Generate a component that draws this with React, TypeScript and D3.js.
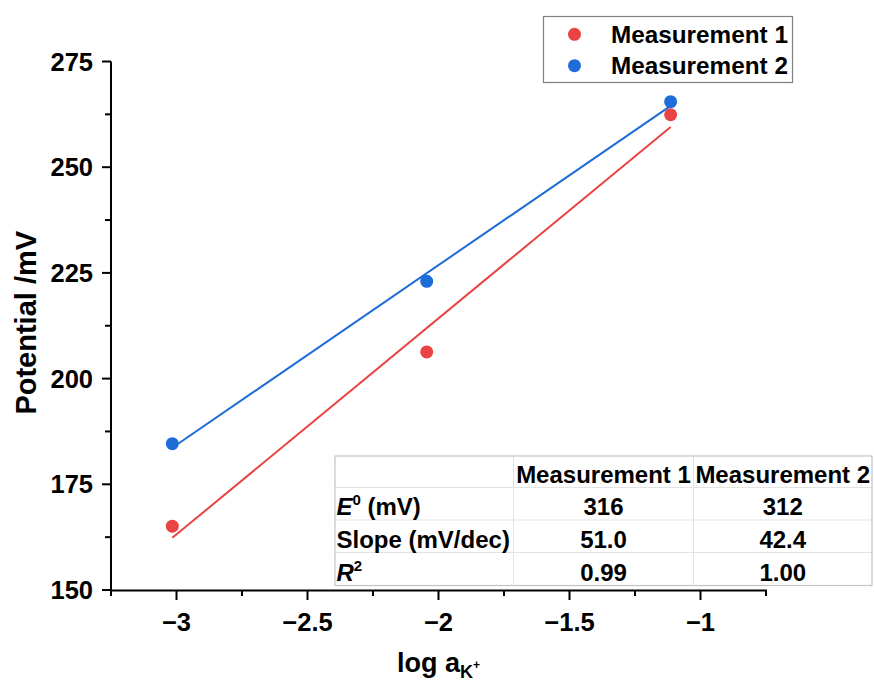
import React from "react";
import * as d3 from "d3";

const logA = [-3.016, -2.045, -1.114];
const measurement1 = [165.1, 206.3, 262.4];
const measurement2 = [184.6, 223.0, 265.5];
const seriesNames = ["Measurement 1", "Measurement 2"];
const seriesColors = ["#E94343", "#1D6CD7"];

const xMajorTicks = [-3, -2.5, -2, -1.5, -1];
const xMinorTicks = [-3.25, -2.75, -2.25, -1.75, -1.25, -0.75];
const yMajorTicks = [150, 175, 200, 225, 250, 275];
const yMinorTicks = [162.5, 187.5, 212.5, 237.5, 262.5];

const tableHeaders = ["", "Measurement 1", "Measurement 2"];
const tableRowLabels = ["E0", "Slope (mV/dec)", "R2"];
const tableValues1 = ["316", "51.0", "0.99"];
const tableValues2 = ["312", "42.4", "1.00"];

const W = 874;
const H = 684;
const FONT = "'Liberation Sans', Arial, Helvetica, sans-serif";

function fit(xs: number[], ys: number[]) {
  const mx = d3.mean(xs)!;
  const my = d3.mean(ys)!;
  let sxy = 0, sxx = 0;
  xs.forEach((x, i) => {
    sxy += (x - mx) * (ys[i] - my);
    sxx += (x - mx) * (x - mx);
  });
  const slope = sxy / sxx;
  const intercept = my - slope * mx;
  return { slope, intercept };
}

export default function App() {
  const x = d3.scaleLinear().domain([-3.25, -0.75]).range([111, 766]);
  const y = d3.scaleLinear().domain([150, 275]).range([590, 61.5]);
  const series = [measurement1, measurement2];
  const xExt = d3.extent(logA) as [number, number];
  const line = d3
    .line<[number, number]>()
    .x((d) => x(d[0]))
    .y((d) => y(d[1]));

  const fmt = (v: number) => (v < 0 ? "\u2212" + Math.abs(v) : String(v));

  const tLeft = 335;
  const colX = [335, 513.5, 693.5, 872];
  const rowY = [456, 487.5, 520, 552.5, 585.5];

  return (
    <svg
      width={W}
      height={H}
      style={{ position: "absolute", left: 0, top: 0, background: "#fff" }}
      fontFamily={FONT}
      fontWeight="bold"
    >
      <rect x={0} y={0} width={W} height={H} fill="#fff" />
      {series.map((s, i) => {
        const f = fit(logA, s);
        const pts: [number, number][] = xExt.map((xv) => [xv, f.intercept + f.slope * xv]);
        return (
          <path
            key={"fit" + i}
            d={line(pts)!}
            stroke={seriesColors[i]}
            strokeWidth={2}
            fill="none"
          />
        );
      })}
      {series.map((s, i) =>
        s.map((v, j) => (
          <circle
            key={"p" + i + "-" + j}
            cx={x(logA[j])}
            cy={y(v)}
            r={6.5}
            fill={seriesColors[i]}
          />
        ))
      )}
      <line x1={111} x2={111} y1={y(275)} y2={591} stroke="#000" strokeWidth={2} />
      <line x1={110} x2={767} y1={590.5} y2={590.5} stroke="#000" strokeWidth={2} />
      {yMajorTicks.map((t) => (
        <g key={"ym" + t}>
          <line x1={102} x2={111} y1={y(t)} y2={y(t)} stroke="#000" strokeWidth={2} />
          <text x={93} y={y(t)} dy="0.36em" textAnchor="end" fontSize={25.5}>
            {t}
          </text>
        </g>
      ))}
      {yMinorTicks.map((t) => (
        <line key={"yn" + t} x1={105} x2={111} y1={y(t)} y2={y(t)} stroke="#000" strokeWidth={2} />
      ))}
      {xMajorTicks.map((t) => (
        <g key={"xm" + t}>
          <line x1={x(t)} x2={x(t)} y1={590} y2={600} stroke="#000" strokeWidth={2} />
          <text x={x(t)} y={631} textAnchor="middle" fontSize={25.5}>
            {fmt(t)}
          </text>
        </g>
      ))}
      {xMinorTicks.map((t) => (
        <line key={"xn" + t} x1={x(t)} x2={x(t)} y1={590} y2={596} stroke="#000" strokeWidth={2} />
      ))}
      <text
        transform={`translate(36, ${(y(150) + y(275)) / 2 - 3}) rotate(-90)`}
        textAnchor="middle"
        fontSize={29}
      >
        Potential /mV
      </text>
      <text x={(111 + 766) / 2} y={672} textAnchor="middle" fontSize={27}>
        log a
        <tspan fontSize={18} dy={6}>K</tspan>
        <tspan fontSize={12} dy={-9}>+</tspan>
      </text>
      <rect x={543.5} y={16.5} width={249} height={66} fill="#fff" stroke="#7f7f7f" strokeWidth={1.2} />
      {seriesNames.map((n, i) => (
        <g key={"lg" + i}>
          <circle cx={574.5} cy={34.3 + i * 31.4} r={6.5} fill={seriesColors[i]} />
          <text x={611} y={43.3 + i * 30.7} fontSize={24.3}>
            {n}
          </text>
        </g>
      ))}
      <rect x={tLeft} y={rowY[0]} width={colX[3] - tLeft} height={rowY[4] - rowY[0]} fill="#fff" />
      {rowY.slice(1, 4).map((ry, i) => (
        <line key={"tr" + i} x1={tLeft} x2={colX[3]} y1={ry} y2={ry} stroke="#e3e3e3" strokeWidth={1} />
      ))}
      {colX.slice(1, 3).map((cx, i) => (
        <line key={"tc" + i} x1={cx} x2={cx} y1={rowY[0]} y2={rowY[4]} stroke="#e3e3e3" strokeWidth={1} />
      ))}
      <rect
        x={tLeft}
        y={rowY[0]}
        width={colX[3] - tLeft}
        height={rowY[4] - rowY[0]}
        fill="none"
        stroke="#c4c4c4"
        strokeWidth={1.2}
      />
      {tableHeaders.map((h, i) =>
        h ? (
          <text key={"th" + i} x={(colX[i] + colX[i + 1]) / 2} y={rowY[1] - 5} textAnchor="middle" fontSize={24}>
            {h}
          </text>
        ) : null
      )}
      {tableRowLabels.map((lab, r) => {
        const by = rowY[r + 2] - 5;
        let content: React.ReactNode = lab;
        if (lab === "E0") {
          content = (
            <>
              <tspan fontStyle="italic">E</tspan>
              <tspan fontSize={15} dy={-10}>0</tspan>
              <tspan dy={10}> (mV)</tspan>
            </>
          );
        } else if (lab === "R2") {
          content = (
            <>
              <tspan fontStyle="italic">R</tspan>
              <tspan fontSize={15} dy={-10}>2</tspan>
            </>
          );
        }
        return (
          <g key={"row" + r}>
            <text x={336.5} y={by} fontSize={24}>
              {content}
            </text>
            <text x={(colX[1] + colX[2]) / 2} y={by} textAnchor="middle" fontSize={24}>
              {tableValues1[r]}
            </text>
            <text x={(colX[2] + colX[3]) / 2} y={by} textAnchor="middle" fontSize={24}>
              {tableValues2[r]}
            </text>
          </g>
        );
      })}
    </svg>
  );
}
